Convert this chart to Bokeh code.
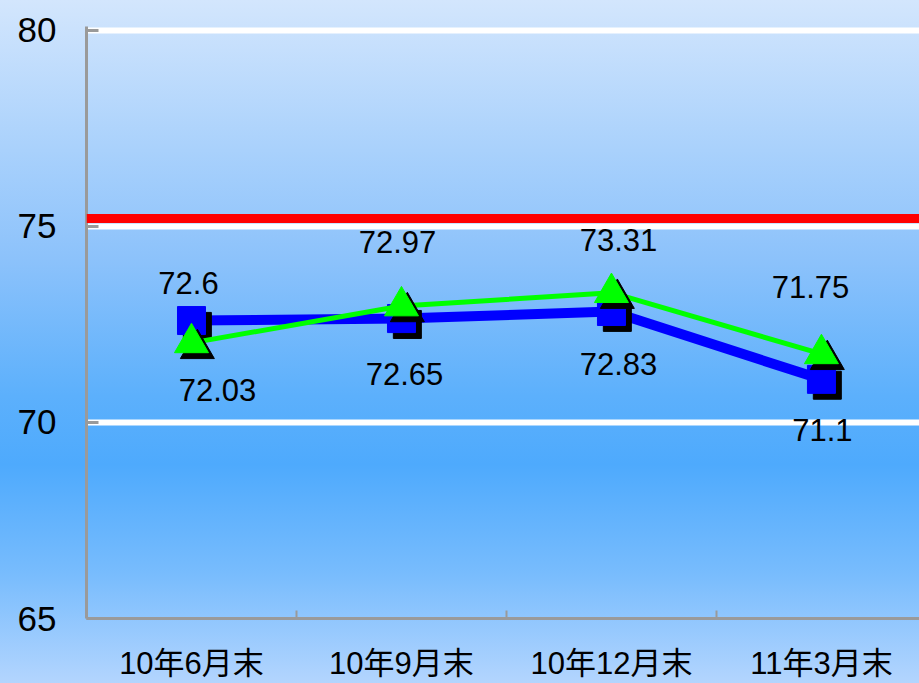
from bokeh.plotting import figure
from bokeh.models import Range1d, FixedTicker, Span, ColumnDataSource
from bokeh.transform import dodge
from bokeh.core.properties import value
from bokeh.embed import file_html
from bokeh.resources import INLINE

# ---- data ----
categories = ["10年6月末", "10年9月末", "10年12月末", "11年3月末"]
series_blue = [72.6, 72.65, 72.83, 71.1]
series_green = [72.03, 72.97, 73.31, 71.75]
target_value = 75.2
y_ticks = [65, 70, 75, 80]
grid_ticks = [70, 75, 80]

# ---- label placement (pixels) ----
blue_dx = [-3, 3, 7, 1]
blue_dy = [-38, 55, 52, 51]
green_dx = [26, -4, 7, -11]
green_dy = [47, -64, -53, -67]

xs = [i + 0.5 for i in range(len(categories))]
bounds = [1, 2, 3]

p = figure(width=919, height=683, output_backend="svg", toolbar_location=None,
           x_range=Range1d(0, 3.967), y_range=Range1d(65, 80.1),
           min_border_left=86, min_border_right=0, min_border_top=26,
           min_border_bottom=63)
p.border_fill_alpha = 0
p.background_fill_alpha = 0
p.outline_line_color = None
p.styles = {"background-image":
            "linear-gradient(to bottom, #d3e6fd 0%, #a9d1fc 22%, #8cc2fb 38%, "
            "#5cb0fc 58%, #4eaafd 68%, #78bcfd 84%, #b3d5fe 100%)"}

# axes
yax = p.yaxis[0]
yax.ticker = FixedTicker(ticks=y_ticks)
yax.axis_line_color = "#9a9a9a"
yax.axis_line_width = 3
yax.major_tick_in = 12
yax.major_tick_out = 0
yax.major_tick_line_color = "#9a9a9a"
yax.major_tick_line_width = 3
yax.minor_tick_line_color = None
yax.major_label_text_font = "Liberation Sans"
yax.major_label_text_font_size = "35px"
yax.major_label_text_color = "black"
yax.major_label_standoff = 30

xax = p.xaxis[0]
xax.ticker = FixedTicker(ticks=xs, minor_ticks=bounds)
xax.major_label_overrides = {x: c for x, c in zip(xs, categories)}
xax.axis_line_color = "#9a9a9a"
xax.axis_line_width = 3
xax.major_tick_in = 0
xax.major_tick_out = 0
xax.minor_tick_in = 8
xax.minor_tick_out = 0
xax.minor_tick_line_color = "#9a9a9a"
xax.minor_tick_line_width = 2
xax.major_label_text_font = "'Liberation Sans', 'Noto Sans CJK SC'"
xax.major_label_text_font_size = "31px"
xax.major_label_text_color = "black"
xax.major_label_standoff = 27

p.xgrid.visible = False
p.ygrid.ticker = FixedTicker(ticks=grid_ticks)
p.ygrid.grid_line_color = "white"
p.ygrid.grid_line_width = 6

p.add_layout(Span(location=target_value, dimension="width",
                  line_color="#ff0000", line_width=9))

src_b = ColumnDataSource(dict(x=xs, y=series_blue,
                              label=[str(v) for v in series_blue],
                              dx=blue_dx, dy=blue_dy))
src_g = ColumnDataSource(dict(x=xs, y=series_green,
                              label=[str(v) for v in series_green],
                              dx=green_dx, dy=green_dy))

# blue series
p.line("x", "y", source=src_b, line_color="#0000ff", line_width=10)
p.scatter(dodge("x", 0.028), dodge("y", -0.15), source=src_b, marker="square",
          size=28, fill_color="black", line_color="black")
p.scatter("x", "y", source=src_b, marker="square", size=28,
          fill_color="#0000ff", line_color="#0000ff")

# green series
p.line("x", "y", source=src_g, line_color="#00ff00", line_width=5)
p.scatter(dodge("x", 0.028), dodge("y", -0.15), source=src_g, marker="triangle",
          size=34, fill_color="black", line_color="black")
p.scatter("x", "y", source=src_g, marker="triangle", size=34,
          fill_color="#00ff00", line_color="#00ff00")

# data labels
for src in (src_b, src_g):
    p.text("x", "y", text="label", source=src, x_offset="dx", y_offset="dy",
           text_align="center", text_baseline="middle",
           text_font=value("Liberation Sans"), text_font_size="31px",
           text_color="black")

open("out.html", "w").write(file_html(p, INLINE))
